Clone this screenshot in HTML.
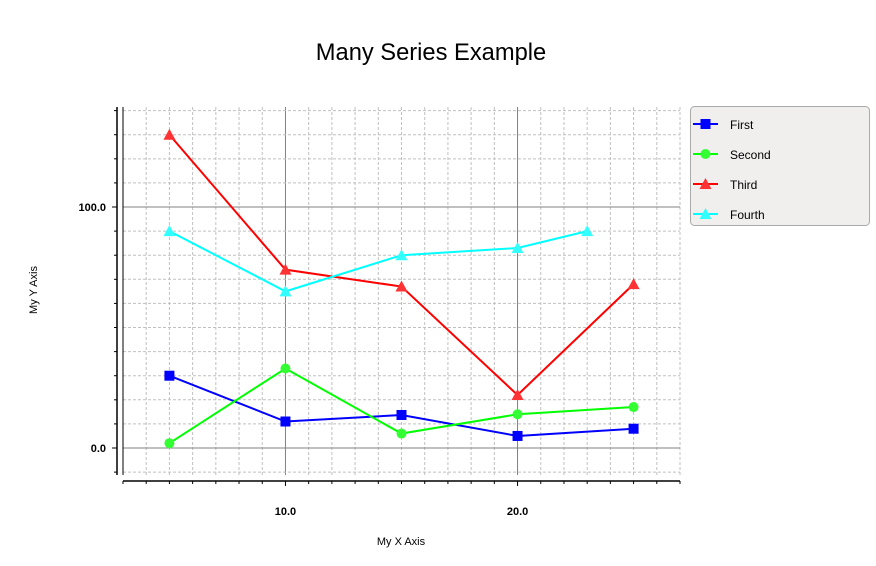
<!DOCTYPE html>
<html><head><meta charset="utf-8"><style>
html,body{margin:0;padding:0;background:#fff;}
svg{display:block;font-family:"Liberation Sans",sans-serif;}
</style></head><body>
<svg id="chart" width="876" height="566" viewBox="0 0 876 566" xmlns="http://www.w3.org/2000/svg">
<text x="431" y="60" text-anchor="middle" font-size="23.7">Many Series Example</text>
<g id="grid"></g>
<g id="axes"></g>
<g id="series"></g>
<text x="401" y="545" text-anchor="middle" font-size="11">My X Axis</text>
<text transform="translate(37,290) rotate(-90)" text-anchor="middle" font-size="11">My Y Axis</text>
<g id="legend"></g>
</svg>
<script>
const seriesNames = ["First","Second","Third","Fourth"];
const seriesColors = ["#0000ff","#00ff00","#ff0000","#00ffff"];
const firstX = [5,10,15,20,25];
const firstY = [30,11,13.7,5,8];
const secondX = [5,10,15,20,25];
const secondY = [2,33,6,14,17];
const thirdX = [5,10,15,20,25];
const thirdY = [130,74,67,22,68];
const fourthX = [5,10,15,20,23];
const fourthY = [90,65,80,83,90];
const xTickLabels = [10,20];
const yTickLabels = [0,100];

const NS="http://www.w3.org/2000/svg";
const L=123,R=680,T=107,B=475;
const xMin=3,xMax=27,yMin=-11.2,yMax=141.5;
const sx=v=>L+(v-xMin)/(xMax-xMin)*(R-L);
const sy=v=>B-(v-yMin)/(yMax-yMin)*(B-T);
function mk(tag,attrs,parent){const e=document.createElementNS(NS,tag);for(const k in attrs)e.setAttribute(k,attrs[k]);parent.appendChild(e);return e;}
const grid=document.getElementById('grid'),axes=document.getElementById('axes'),ser=document.getElementById('series'),leg=document.getElementById('legend');

for(let x=Math.ceil(xMin);x<=xMax;x++){
  const major=x%10===0;
  const g=mk('line',{x1:sx(x),x2:sx(x),y1:T,y2:B,stroke:major?'#808080':'#c0c0c0','stroke-width':1,'stroke-dasharray':major?'':'3,2'},grid);
  
  
  const t=mk('line',{x1:sx(x),x2:sx(x),y1:481,y2:major?486:484,stroke:'#000'},axes);
  
  
}
for(let y=-10;y<=yMax;y+=10){
  const major=y%100===0;
  const g=mk('line',{x1:L,x2:R,y1:sy(y),y2:sy(y),stroke:major?'#808080':'#c0c0c0','stroke-width':1,'stroke-dasharray':major?'':'3,2'},grid);
  
  
  const t=mk('line',{x1:major?112:114,x2:117,y1:sy(y),y2:sy(y),stroke:'#000'},axes);
  
  
}
const xa=mk('line',{x1:L,x2:R,y1:481,y2:481,stroke:'#000','stroke-width':1.5},axes);


const ya=mk('line',{x1:117,x2:117,y1:T,y2:B,stroke:'#000','stroke-width':1.5},axes);


const pb=mk('line',{x1:L,x2:L,y1:T,y2:B,stroke:'#000','stroke-width':1},axes);


xTickLabels.forEach(v=>{const t=mk('text',{x:sx(v),y:515,'text-anchor':'middle','font-size':11,'font-weight':'bold'},axes);t.textContent=v.toFixed(1);
  
  });
yTickLabels.forEach(v=>{const t=mk('text',{x:106,y:sy(v)+4,'text-anchor':'end','font-size':11,'font-weight':'bold'},axes);t.textContent=v.toFixed(1);
  
  });

function marker(kind,cx,cy,color,parent){
  let e;
  if(kind===0)e=mk('rect',{x:cx-5,y:cy-5,width:10,height:10,fill:color},parent);
  else if(kind===1)e=mk('circle',{cx:cx,cy:cy,r:5,fill:'#33ff33'},parent);
  else e=mk('polygon',{points:`${cx},${cy-6} ${cx-6},${cy+5} ${cx+6},${cy+5}`,fill:kind===2?'#ff3333':'#33ffff'},parent);
  return e;
}
const allX=[firstX,secondX,thirdX,fourthX],allY=[firstY,secondY,thirdY,fourthY];
allX.forEach((xs,i)=>{
  const g=mk('g',{},ser);
  
  
  const pts=xs.map((x,j)=>sx(x)+','+sy(allY[i][j])).join(' ');
  mk('polyline',{points:pts,fill:'none',stroke:seriesColors[i],'stroke-width':2},g);
  xs.forEach((x,j)=>{const m=marker(i,sx(x),sy(allY[i][j]),seriesColors[i],g);
    
    });
});
mk('rect',{x:690.5,y:106.5,width:179,height:119,rx:4,fill:'#f1eeee',stroke:'#aaaaaa'},leg);
seriesNames.forEach((n,i)=>{
  const g=mk('g',{},leg);
  
  
  const y=124+30*i;
  mk('line',{x1:693,x2:718,y1:y,y2:y,stroke:seriesColors[i],'stroke-width':2},g);
  marker(i,705.5,y,seriesColors[i],g);
  const t=mk('text',{x:730,y:y+5,'font-size':12},g);t.textContent=n;
});
</script>
</body></html>
